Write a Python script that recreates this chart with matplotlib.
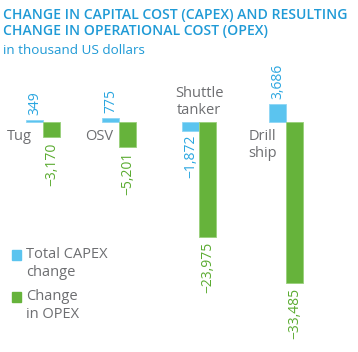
import matplotlib
matplotlib.use("Agg")
import matplotlib.pyplot as plt
import numpy as np

# ---- data ----
categories = ["Tug", "OSV", "Shuttle\ntanker", "Drill\nship"]
capex_change = [349, 775, -1872, 3686]
opex_change = [-3170, -5201, -23975, -33485]
legend_labels = ["Total CAPEX\nchange", "Change\nin OPEX"]

# ---- layout ----
W, H = 358, 352
group_pos = [0, 0.95, 1.95, 3.04]          # group centres in "slot" units
slot_px = 80.0
x0_px = 43.0
bar_w = 17 / slot_px
px_per_unit = 0.0048                       # pixels per thousand USD
baseline_px = 122
# category label offsets in pixels (dx, dy) from group centre / baseline, ha
cat_layout = [(-11, -14, "right"), (-6, -15, "right"), (0, 20, "center"), (-24, -23, "center")]

blue = "#5bc4ef"
green = "#66b33b"
blue_txt = "#2aa6e0"
green_txt = "#5aab30"
title_col = "#1f9ad6"
grey = "#6d6e71"

plt.rcParams['font.family'] = ['Open Sans', 'DejaVu Sans']

fig = plt.figure(figsize=(W / 100, H / 100), dpi=100)
ax = fig.add_axes([0, 0, 1, 1])
ax.set_xlim(-x0_px / slot_px, (W - x0_px) / slot_px)
ax.set_ylim(-(H - baseline_px) / px_per_unit, baseline_px / px_per_unit)
ax.axis("off")

xs = np.array(group_pos)
ax.bar(xs - bar_w / 2, capex_change, width=bar_w, color=blue,
       edgecolor="#8ed6f5", linewidth=0.6)
ax.bar(xs + bar_w / 2, opex_change, width=bar_w, color=green,
       edgecolor="#98d07a", linewidth=0.6)

pt = 72 / 100  # points per pixel
for i, (c, o) in enumerate(zip(capex_change, opex_change)):
    va = "bottom" if c >= 0 else "top"
    dy = 5 if c >= 0 else -4
    ax.annotate(f"{c:,}".replace("-", "\u2212"), (xs[i] - bar_w / 2, c),
                xytext=(0, dy * pt), textcoords="offset points",
                rotation=90, ha="center", va=va, color=blue_txt, fontsize=10)
    ax.annotate(f"{o:,}".replace("-", "\u2212"), (xs[i] + bar_w / 2, o),
                xytext=(0, -5 * pt), textcoords="offset points",
                rotation=90, ha="center", va="top", color=green_txt, fontsize=10)
    dx, dyc, ha = cat_layout[i]
    ax.annotate(categories[i], (xs[i], 0), xytext=(dx * pt, dyc * pt),
                textcoords="offset points", ha=ha, va="center",
                color=grey, fontsize=10.5, linespacing=1.1)

# titles
fig.text(3 / W, 1 - 8 / H, "CHANGE IN CAPITAL COST (CAPEX) AND RESULTING\nCHANGE IN OPERATIONAL COST (OPEX)",
         ha="left", va="top", color=title_col, fontsize=10.1, fontweight="semibold", linespacing=1.2)
fig.text(3 / W, 1 - 44 / H, "in thousand US dollars", ha="left", va="top",
         color=title_col, fontsize=9.7)

# legend
for j, (lab, col) in enumerate(zip(legend_labels, [blue, green])):
    ytop = 250 + j * 42
    fig.patches.append(plt.Rectangle((12 / W, 1 - (ytop + 10) / H), 9 / W, 10 / H,
                                     transform=fig.transFigure, color=col))
    fig.text(26 / W, 1 - (ytop - 3) / H, lab, ha="left", va="top", color=grey,
             fontsize=10.5, linespacing=1.25)

fig.savefig("out.png", dpi=100)
